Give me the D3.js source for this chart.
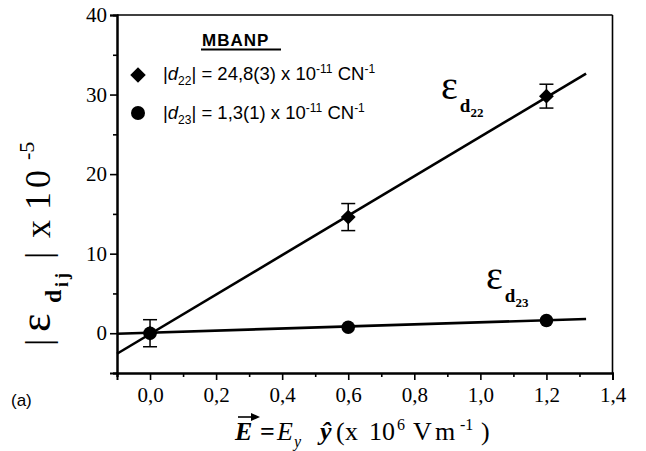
<!DOCTYPE html>
<html><head><meta charset="utf-8">
<script src="https://cdn.jsdelivr.net/npm/d3@7"></script>
<style>body{margin:0;background:#fff}svg{display:block}
.serif{font-family:'Liberation Serif','Times New Roman',Times,serif}
.sans{font-family:'Liberation Sans',Arial,Helvetica,sans-serif}
</style>
</head><body>
<script>
// ---- data ----
const fieldX = [0.0, 0.6, 1.2];
const d22Values = [0.0, 14.6, 29.8];
const d22Errors = [1.7, 1.7, 1.5];
const d23Values = [0.0, 0.75, 1.6];
const fitSlopes = [24.8, 1.3];          // d22, d23
const fitIntercepts = [-0.1, 0.07];
const fitRange = [-0.1, 1.32];
const xTicksMajor = [0.0, 0.2, 0.4, 0.6, 0.8, 1.0, 1.2, 1.4];
const xTicksMinor = [-0.1, 0.1, 0.3, 0.5, 0.7, 0.9, 1.1, 1.3];
const yTicksMajor = [0, 10, 20, 30, 40];
const yTicksMinor = [-5, 5, 15, 25, 35];

const W = 646, H = 451;
const L = 117, R = 612.5, T = 15, B = 373;

const svg = d3.select("body").append("svg").attr("width", W).attr("height", H);
const x = d3.scaleLinear().domain([-0.1, 1.4]).range([L, R]);
const y = d3.scaleLinear().domain([-5, 40]).range([B, T]);
const fmt = d => d3.format(".1f")(d).replace(".", ",");

// axes
const xAxis = svg.append("g").attr("transform", `translate(0,${B})`)
  .call(d3.axisBottom(x).tickValues(xTicksMajor).tickSize(7).tickFormat(fmt));
svg.append("g").attr("transform", `translate(0,${B})`)
  .call(d3.axisBottom(x).tickValues(xTicksMinor).tickSize(4).tickFormat(""));
const yAxis = svg.append("g").attr("transform", `translate(${L},0)`)
  .call(d3.axisLeft(y).tickValues(yTicksMajor).tickSize(7).tickFormat(d3.format("d")));
svg.append("g").attr("transform", `translate(${L},0)`)
  .call(d3.axisLeft(y).tickValues(yTicksMinor).tickSize(4).tickFormat(""));
svg.selectAll("g").attr("font-family", null).attr("font-size", null);
svg.selectAll(".domain").attr("stroke", "#000").attr("stroke-width", 2);
svg.selectAll(".tick line").attr("stroke", "#000").attr("stroke-width", 1.6);
svg.selectAll(".tick text").attr("class", "serif").style("font-size", "21px").attr("fill", "#000");
xAxis.selectAll(".tick text").attr("dy", "0.9em");
yAxis.selectAll(".tick text").attr("dx", "0em");
// top & right frame
svg.append("line").attr("x1", L).attr("x2", R).attr("y1", T).attr("y2", T).attr("stroke", "#000").attr("stroke-width", 1.6);
svg.append("line").attr("x1", R).attr("x2", R).attr("y1", T).attr("y2", B).attr("stroke", "#000").attr("stroke-width", 1.6);

// fit lines
const fits = fitSlopes.map((s, i) => fitRange.map(v => [v, s * v + fitIntercepts[i]]));
svg.append("g").selectAll("path").data(fits).join("path")
  .attr("d", d3.line().x(d => x(d[0])).y(d => y(d[1])))
  .attr("fill", "none").attr("stroke", "#000").attr("stroke-width", 2.6);

// error bars (d22)
const eb = svg.append("g").attr("stroke", "#000").attr("stroke-width", 1.5);
fieldX.forEach((v, i) => {
  const cx = x(v), e = d22Errors[i], m = d22Values[i];
  eb.append("line").attr("x1", cx).attr("x2", cx).attr("y1", y(m + e)).attr("y2", y(m - e));
  eb.append("line").attr("x1", cx - 7).attr("x2", cx + 7).attr("y1", y(m + e)).attr("y2", y(m + e));
  eb.append("line").attr("x1", cx - 7).attr("x2", cx + 7).attr("y1", y(m - e)).attr("y2", y(m - e));
});

// markers
svg.append("g").selectAll("path").data(fieldX).join("path")
  .attr("d", d3.symbol().type(d3.symbolSquare).size(110))
  .attr("transform", (d, i) => `translate(${x(d)},${y(d22Values[i])}) rotate(45)`)
  .attr("fill", "#000");
svg.append("g").selectAll("circle").data(fieldX).join("circle")
  .attr("cx", d => x(d)).attr("cy", (d, i) => y(d23Values[i])).attr("r", 6.8).attr("fill", "#000");

// legend
svg.append("text").attr("class", "sans").attr("x", 202).attr("y", 46).attr("font-weight", "bold")
  .style("font-size", "17px").attr("letter-spacing", 1).text("MBANP");
svg.append("line").attr("x1", 201).attr("x2", 281).attr("y1", 49.5).attr("y2", 49.5).attr("stroke", "#000").attr("stroke-width", 1.8);
svg.append("path").attr("d", d3.symbol().type(d3.symbolSquare).size(120)())
  .attr("transform", "translate(138,75) rotate(45)").attr("fill", "#000");
svg.append("circle").attr("cx", 138).attr("cy", 113).attr("r", 7).attr("fill", "#000");
function legendText(yy, sub, val) {
  const t = svg.append("text").attr("class", "sans").attr("x", 163).attr("y", yy).style("font-size", "18.5px");
  t.append("tspan").text("|");
  t.append("tspan").attr("font-style", "italic").text("d");
  t.append("tspan").style("font-size", "12px").attr("dy", 5).text(sub);
  t.append("tspan").attr("dy", -5).text("| = " + val + " x 10");
  t.append("tspan").style("font-size", "12px").attr("dy", -7).text("-11");
  t.append("tspan").attr("dy", 7).text(" CN");
  t.append("tspan").style("font-size", "12px").attr("dy", -7).text("-1");
}
legendText(80, "22", "24,8(3)");
legendText(119, "23", "1,3(1)");

// series labels
function epsLabel(xx, yy, sub) {
  const t = svg.append("text").attr("class", "serif").attr("x", xx).attr("y", yy);
  t.append("tspan").style("font-size", "40px").text("ε");
  t.append("tspan").style("font-size", "19px").attr("font-weight", "bold").attr("dy", 13).attr("dx", 2).text("d");
  t.append("tspan").style("font-size", "13px").attr("font-weight", "bold").attr("dy", 5).text(sub);
}
epsLabel(441, 99, "22");
epsLabel(486, 289, "23");

// y axis title (rotated; tspan x = -actual y)
const yt = svg.append("text").attr("class", "serif").attr("transform", "translate(50,0) rotate(-90)")
  .style("font-size", "36px");
yt.append("tspan").attr("x", -346).text("|");
yt.append("tspan").attr("x", -332).style("font-size", "44px").text("ε");
yt.append("tspan").attr("x", -303).attr("dy", 11).style("font-size", "24px").attr("font-weight", "bold").text("d");
yt.append("tspan").attr("x", -287).attr("dy", 7).style("font-size", "18px").attr("font-weight", "bold")
  .attr("letter-spacing", 3).text("ij");
yt.append("tspan").attr("x", -259).attr("dy", -18).text("|");
yt.append("tspan").attr("x", -238).text("x");
yt.append("tspan").attr("x", -210).text("1");
yt.append("tspan").attr("x", -188).text("0");
yt.append("tspan").attr("x", -160).attr("dy", -16).style("font-size", "22px").text("-5");

// x axis title
const xt = svg.append("text").attr("class", "serif").attr("y", 440).style("font-size", "26px");
xt.append("tspan").attr("x", 235).attr("font-weight", "bold").attr("font-style", "italic").text("E");
xt.append("tspan").attr("x", 260).attr("font-weight", "bold").text("=");
xt.append("tspan").attr("x", 277).attr("font-style", "italic").text("E");
xt.append("tspan").attr("x", 294).attr("font-style", "italic").style("font-size", "16px").attr("dy", 7).text("y");
xt.append("tspan").attr("x", 320).attr("font-weight", "bold").attr("font-style", "italic").attr("dy", -7).text("ŷ");
xt.append("tspan").attr("x", 336).text("(");
xt.append("tspan").attr("x", 345).text("x");
xt.append("tspan").attr("x", 369).text("10");
xt.append("tspan").attr("x", 397).style("font-size", "16px").attr("dy", -10).text("6");
xt.append("tspan").attr("x", 413).attr("dy", 10).text("V");
xt.append("tspan").attr("x", 435).text("m");
xt.append("tspan").attr("x", 460).style("font-size", "16px").attr("dy", -10).text("-1");
xt.append("tspan").attr("x", 481).attr("dy", 10).text(")");
// arrow over first E
svg.append("line").attr("x1", 238).attr("x2", 256).attr("y1", 417).attr("y2", 417).attr("stroke", "#000").attr("stroke-width", 1.6);
svg.append("path").attr("d", "M251,413 L260,417 L251,421 Z").attr("fill", "#000");

// panel label
svg.append("text").attr("class", "sans").attr("x", 11).attr("y", 406).style("font-size", "17px").text("(a)");
</script>
</body></html>
